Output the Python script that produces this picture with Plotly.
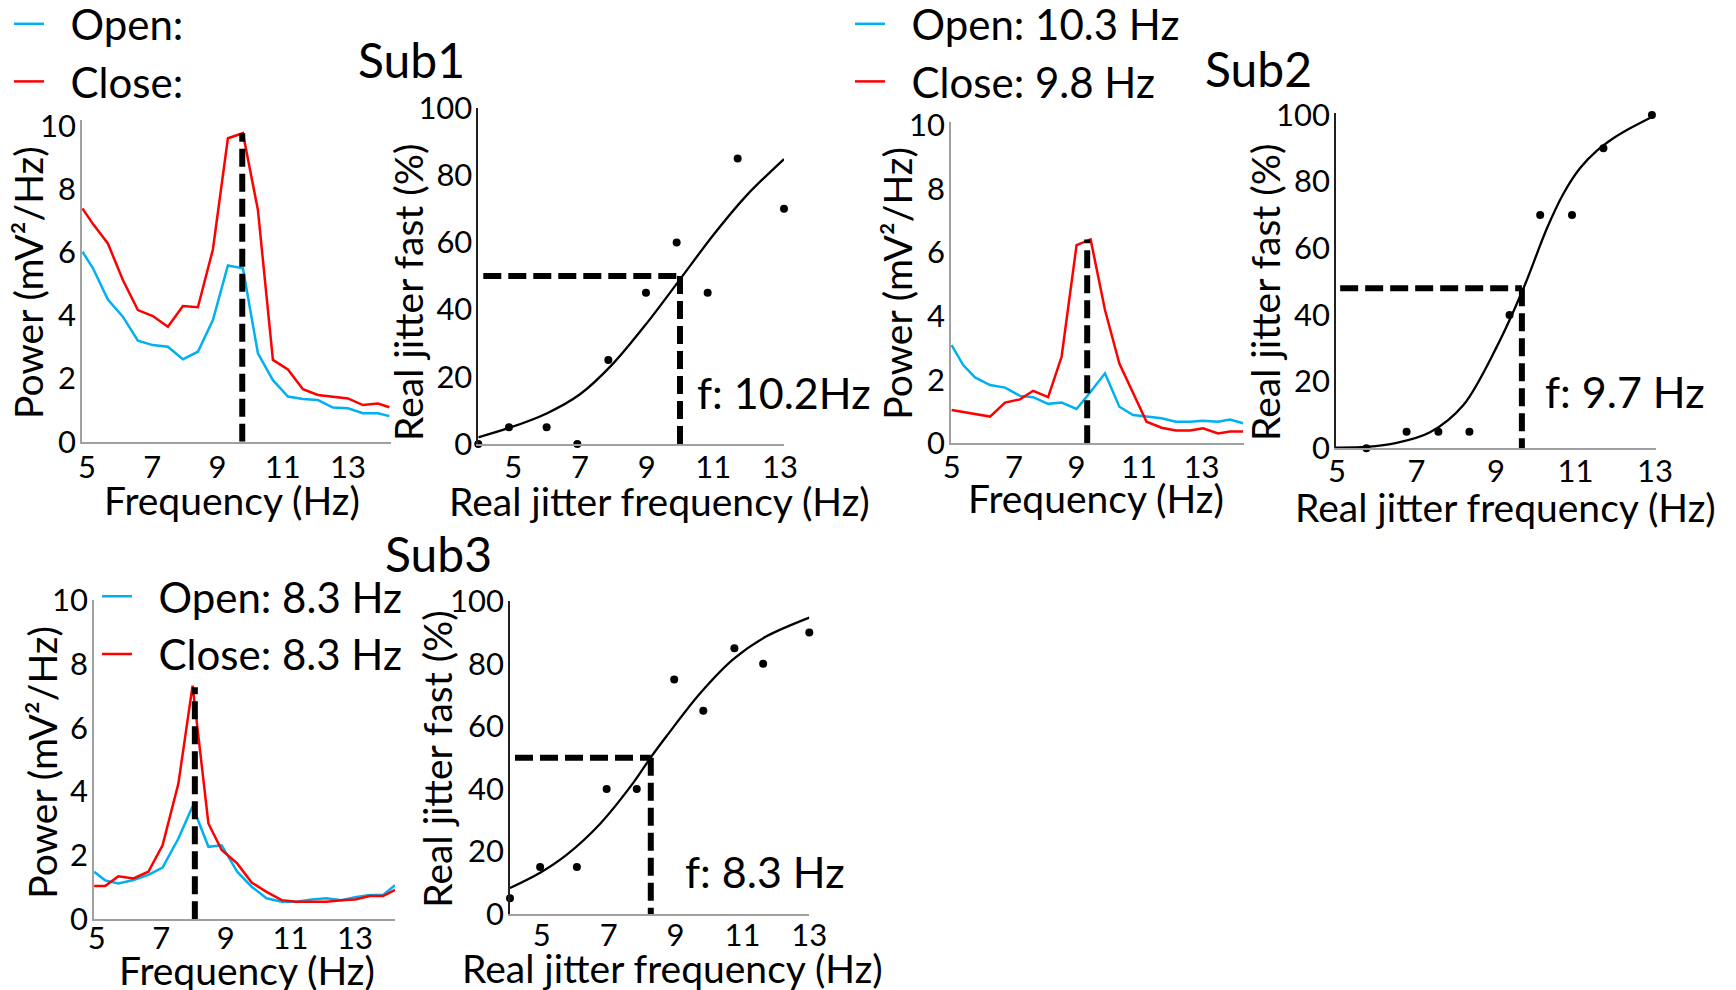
import plotly.graph_objects as go

W, H = 1736, 990
FONT = "Lato"
BLUE = "#00B0F0"
RED = "#FF0000"
AXGRAY = "#A0A0A0"

# ---------------- data ----------------
# Power spectra (frequency in Hz, power in mV^2/Hz)
freq1 = [4.86, 5.18, 5.64, 6.10, 6.56, 7.02, 7.48, 7.94, 8.40, 8.86, 9.32, 9.78, 10.24, 10.70, 11.16, 11.62, 12.08, 12.54, 13.00, 13.46, 13.92, 14.27]
open1 = [6.02, 5.50, 4.50, 3.96, 3.20, 3.06, 3.01, 2.61, 2.85, 3.85, 5.58, 5.49, 2.80, 1.95, 1.43, 1.35, 1.32, 1.08, 1.06, 0.90, 0.90, 0.81]
close1 = [7.39, 6.90, 6.28, 5.12, 4.17, 3.98, 3.64, 4.30, 4.26, 6.09, 9.61, 9.77, 7.34, 2.59, 2.29, 1.66, 1.48, 1.43, 1.37, 1.16, 1.21, 1.09]

freq2 = [5.00, 5.37, 5.75, 6.23, 6.71, 7.19, 7.61, 8.09, 8.52, 9.00, 9.45, 9.91, 10.37, 10.81, 11.24, 11.72, 12.18, 12.63, 13.05, 13.53, 13.91, 14.33]
open2 = [3.09, 2.46, 2.07, 1.83, 1.75, 1.49, 1.45, 1.24, 1.28, 1.08, 1.62, 2.20, 1.15, 0.89, 0.84, 0.79, 0.68, 0.68, 0.71, 0.68, 0.75, 0.63]
close2 = [1.05, 0.98, 0.91, 0.84, 1.28, 1.38, 1.65, 1.45, 2.72, 6.23, 6.41, 4.19, 2.51, 1.57, 0.68, 0.49, 0.40, 0.40, 0.47, 0.31, 0.37, 0.37]

freq3 = [4.92, 5.26, 5.67, 6.14, 6.60, 7.04, 7.53, 7.97, 8.46, 8.87, 9.35, 9.80, 10.26, 10.73, 11.19, 11.66, 12.12, 12.58, 13.00, 13.46, 13.87, 14.24]
open3 = [1.49, 1.22, 1.12, 1.23, 1.39, 1.62, 2.53, 3.54, 2.27, 2.32, 1.49, 1.02, 0.66, 0.55, 0.55, 0.62, 0.66, 0.60, 0.69, 0.76, 0.76, 1.07]
close3 = [1.04, 1.04, 1.35, 1.28, 1.49, 2.32, 4.25, 7.32, 3.00, 2.17, 1.75, 1.15, 0.86, 0.60, 0.55, 0.55, 0.55, 0.60, 0.62, 0.73, 0.73, 0.92]

# peak markers (frequency, power)
peak_freq = [9.76, 9.34, 8.04]
peak_pow = [9.77, 6.41, 7.27]

# legend labels
open_labels = ["Open:", "Open: 10.3 Hz", "Open: 8.3 Hz"]
close_labels = ["Close:", "Close: 9.8 Hz", "Close: 8.3 Hz"]

# Psychometric data (real jitter frequency in Hz, % judged fast)
jit1_x = [3.95, 4.87, 6.00, 6.92, 7.85, 8.98, 9.90, 10.83, 11.73, 13.12]
jit1_y = [0, 5, 5, 0, 25, 45, 60, 45, 85, 70]
fit1_x = [3.95, 4.85, 6.0, 7.0, 8.0, 9.0, 10.0, 11.0, 12.0, 13.12]
fit1_y = [2.0, 4.7, 9.1, 14.8, 24.0, 35.9, 49.0, 62.2, 74.0, 84.8]

jit2_x = [4.97, 5.74, 6.75, 7.55, 8.33, 9.34, 10.11, 10.91, 11.70, 12.92]
jit2_y = [0, 0, 5, 5, 5, 40, 70, 70, 90, 100]
fit2_x = [4.97, 5.75, 6.50, 7.34, 8.18, 9.02, 9.69, 10.28, 10.69, 11.11, 11.53, 11.95, 12.37, 12.92]
fit2_y = [0.2, 0.4, 1.6, 4.8, 13.0, 30.5, 48.0, 66.0, 76.3, 84.0, 89.2, 93.0, 96.0, 99.4]

jit3_x = [4.05, 4.95, 6.05, 6.94, 7.84, 8.96, 9.83, 10.76, 11.62, 13.0]
jit3_y = [5, 15, 15, 40, 40, 75, 65, 85, 80, 90]
fit3_x = [4.05, 4.95, 5.75, 6.74, 7.74, 8.26, 8.74, 9.73, 10.73, 11.72, 13.0]
fit3_y = [8.3, 13.2, 19.0, 28.8, 42.0, 50.1, 57.0, 70.5, 81.5, 88.8, 94.8]

# thresholds: (frequency at threshold, threshold %, start of horizontal guide)
thr_freq = [10.0, 9.65, 8.26]
thr_pct = [50, 48, 50]
thr_start = [4.10, 5.08, 4.20]
thr_labels = ["f: 10.2Hz", "f: 9.7 Hz", "f: 8.3 Hz"]
thr_label_pos = [(10.45, 15.2), (10.19, 17.0), (9.23, 13.5)]

sub_titles = ["Sub1", "Sub2", "Sub3"]

power_ticks = [0, 2, 4, 6, 8, 10]
pct_ticks = [0, 20, 40, 60, 80, 100]
freq_ticks = [5, 7, 9, 11, 13]

# ---------------- layout geometry (pixels) ----------------
def dx(l, r):
    return [l / W, r / W]

def dy(top, bottom):
    return [1 - bottom / H, 1 - top / H]

# (x-domain px, x-range, y-domain px (top,bottom), y-range, x tick standoff)
power_axes = [
    ((82, 391), [4.847, 14.32], (120, 441.7), [0, 10.19], -3),
    ((951, 1244), [4.98, 14.36], (121.7, 443.3), [0, 10.11], -4),
    ((94, 395), [4.916, 14.24], (600, 919.3), [0, 10.0], -9),
]
psy_axes = [
    ((478.3, 784), [3.95, 13.12], (108, 444), [0, 100], -5),
    ((1336, 1655.5), [4.975, 13.01], (113.3, 448.3), [0, 100.5], -5),
    ((510, 809.3), [4.05, 13.0], (601.3, 914), [0, 100], -7),
]

fig = go.Figure()
layout = dict(
    width=W, height=H, margin=dict(l=0, r=0, t=0, b=0, autoexpand=False),
    paper_bgcolor="white", plot_bgcolor="white",
    font=dict(family=FONT, color="black"),
    showlegend=True,
)

tickfont = dict(family=FONT, size=31, color="black")

def axis(dom, rng, tickvals, linecolor, anchor, standoff):
    return dict(domain=dom, range=rng, tickvals=tickvals, showgrid=False, zeroline=False,
                showline=True, linecolor=linecolor, linewidth=1.5, ticks="",
                tickfont=tickfont, anchor=anchor, fixedrange=True, automargin=False,
                ticklabelstandoff=standoff)

open_sets = [(freq1, open1, close1), (freq2, open2, close2), (freq3, open3, close3)]
psy_sets = [(jit1_x, jit1_y, fit1_x, fit1_y), (jit2_x, jit2_y, fit2_x, fit2_y), (jit3_x, jit3_y, fit3_x, fit3_y)]
legend_names = ["legend", "legend2", "legend3"]
NB = "\u00a0\u00a0"

def xk(n): return "xaxis" if n == 1 else f"xaxis{n}"
def yk(n): return "yaxis" if n == 1 else f"yaxis{n}"
def xr(n): return "x" if n == 1 else f"x{n}"
def yr(n): return "y" if n == 1 else f"y{n}"

for i in range(3):
    pa = 2 * i + 1
    sa = 2 * i + 2
    (pxd, pxr, pyd, pyr, pso) = power_axes[i]
    (sxd, sxr, syd, syr, sso) = psy_axes[i]
    layout[xk(pa)] = axis(dx(*pxd), pxr, freq_ticks, AXGRAY, yr(pa), pso)
    layout[yk(pa)] = axis(dy(*pyd), pyr, power_ticks, AXGRAY, xr(pa), -2)
    layout[xk(sa)] = axis(dx(*sxd), sxr, freq_ticks, AXGRAY, yr(sa), sso)
    layout[yk(sa)] = axis(dy(*syd), syr, pct_ticks, "#202020", xr(sa), -2)

    f, o, c = open_sets[i]
    fig.add_trace(go.Scatter(x=f, y=o, mode="lines", line=dict(color=BLUE, width=2.5),
                             name=NB + open_labels[i], legend=legend_names[i], legendgroup=f"o{i}",
                             xaxis=xr(pa), yaxis=yr(pa)))
    fig.add_trace(go.Scatter(x=f, y=c, mode="lines", line=dict(color=RED, width=2.5),
                             name=NB + close_labels[i], legend=legend_names[i], legendgroup=f"c{i}",
                             xaxis=xr(pa), yaxis=yr(pa)))
    fig.add_trace(go.Scatter(x=[peak_freq[i], peak_freq[i]], y=[0, peak_pow[i]], mode="lines",
                             line=dict(color="black", width=6, dash="18px,7px"),
                             showlegend=False, xaxis=xr(pa), yaxis=yr(pa)))

    jx, jy, fx, fy = psy_sets[i]
    fig.add_trace(go.Scatter(x=[thr_start[i], thr_freq[i]], y=[thr_pct[i], thr_pct[i]], mode="lines",
                             line=dict(color="black", width=6, dash="18px,7px"),
                             showlegend=False, xaxis=xr(sa), yaxis=yr(sa)))
    fig.add_trace(go.Scatter(x=[thr_freq[i], thr_freq[i]], y=[thr_pct[i], 0], mode="lines",
                             line=dict(color="black", width=6, dash="18px,7px"),
                             showlegend=False, xaxis=xr(sa), yaxis=yr(sa)))
    fig.add_trace(go.Scatter(x=fx, y=fy, mode="lines", line=dict(color="black", width=2.3, shape="spline", smoothing=0.9),
                             showlegend=False, xaxis=xr(sa), yaxis=yr(sa)))
    fig.add_trace(go.Scatter(x=jx, y=jy, mode="markers", marker=dict(color="black", size=8),
                             showlegend=False, cliponaxis=False, xaxis=xr(sa), yaxis=yr(sa)))

# legends
leg_common = dict(font=dict(family=FONT, size=42, color="black"), bgcolor="rgba(0,0,0,0)",
                  xanchor="left", yanchor="top", tracegroupgap=0, itemwidth=30)
layout["legend"] = dict(leg_common, x=9 / W, y=1 - (-10) / H)
layout["legend2"] = dict(leg_common, x=850 / W, y=1 - (-10) / H)
layout["legend3"] = dict(leg_common, x=97 / W, y=1 - 562.5 / H)

ann = []
def txt(x, y, s, size, xanchor="center", yanchor="middle", angle=0, xref="paper", yref="paper"):
    if xref == "paper":
        x = x / W
        y = 1 - y / H
    ann.append(dict(x=x, y=y, xref=xref, yref=yref, text=s, showarrow=False, textangle=angle,
                    xanchor=xanchor, yanchor=yanchor, font=dict(family=FONT, size=size, color="black")))

# subject titles
for (cx, cy), s in zip([(411, 59), (1258, 68.5), (438, 553.5)], sub_titles):
    txt(cx, cy, s, 48)

# axis titles
for (cx, cy) in [(28, 283), (896.7, 283), (41.7, 762)]:
    txt(cx, cy, "Power (mV²/Hz)", 39, angle=-90)
for (cx, cy) in [(232, 500), (1096, 498), (246.7, 969.5)]:
    txt(cx, cy, "Frequency (Hz)", 39)
for (cx, cy) in [(408, 293), (1265, 293), (436.7, 759)]:
    txt(cx, cy, "Real jitter fast (%)", 39, angle=-90)
for (cx, cy) in [(659, 500.7), (1505, 506.7), (672, 968)]:
    txt(cx, cy, "Real jitter frequency (Hz)", 39)

# threshold labels in data coordinates
for i in range(3):
    n = 2 * i + 2
    lx, ly = thr_label_pos[i]
    txt(lx, ly, thr_labels[i], 43, xanchor="left", xref=f"x{n}", yref=f"y{n}")

layout["annotations"] = ann
fig.update_layout(**layout)
fig.write_html("out.html", config={"displayModeBar": False},
               post_script="document.body.style.margin='0px';document.body.style.overflow='hidden';")
